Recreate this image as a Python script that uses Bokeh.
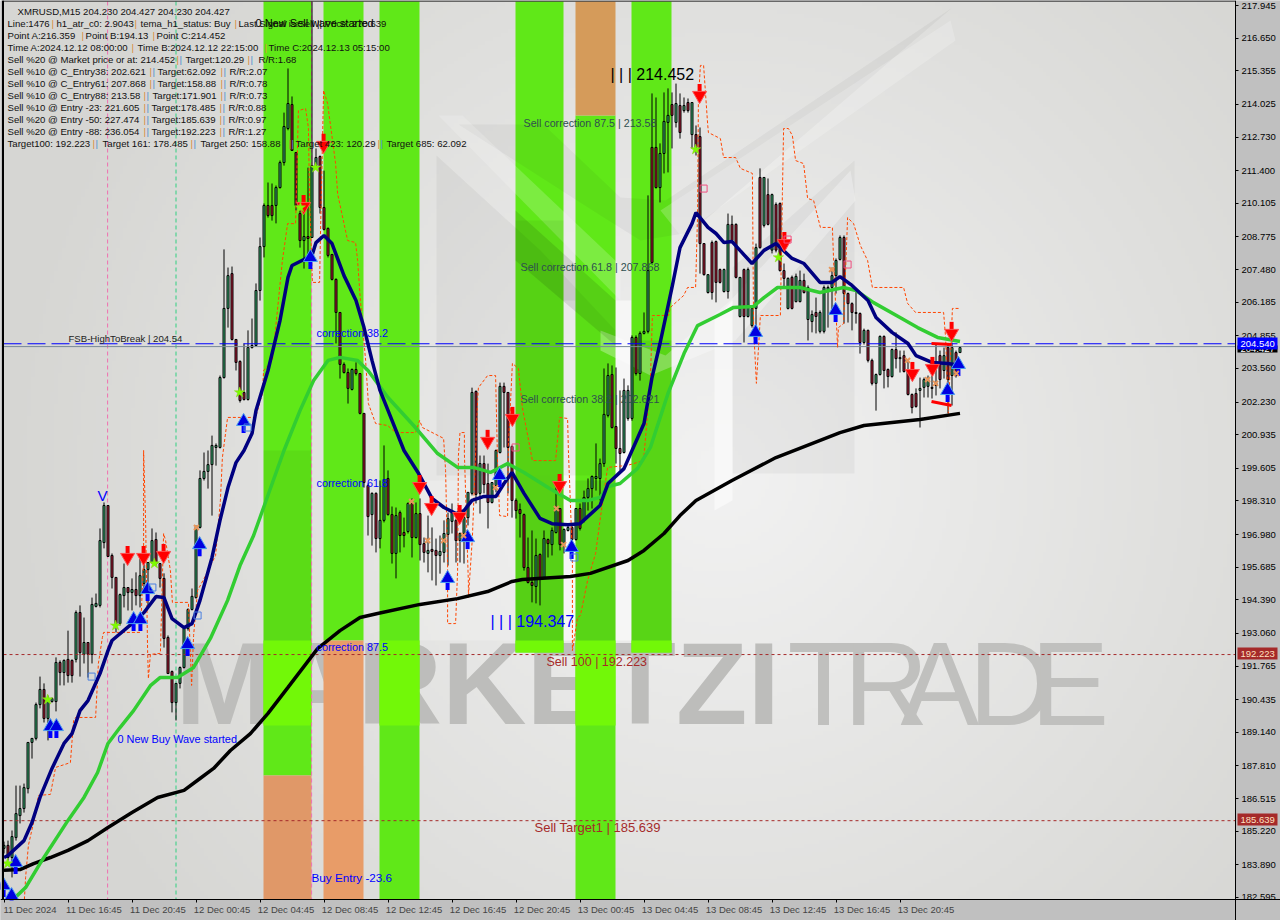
import numpy as np
from bokeh.plotting import figure
from bokeh.embed import file_html
from bokeh.resources import INLINE
from bokeh.core.properties import value
from bokeh.models import FixedTicker, Range1d, AllLabels, NumeralTickFormatter, LinearAxis

# ---------- candles (bar index 0..239), prices ----------
direction = list(
    "GRGGGGGGGG" "RGGGRGRRGR" "GRGGGGRRRG" "GRGRGGGGRR" "RRRGGGGGGG"
    "GGGGGGGRRR" "RGGGGGRRGG" "GGRRRGRGGR" "RRRRRRRGRR" "RRGRGGRRGR"
    "RGRGRRGRRG" "GGGRGGGGRG" "RRGGGRRRRR" "RRRGRGRGGR" "GGRGRGGGGG"
    "GGRRRGGGRG" "GGRRGGGRGR" "GRGRRRGRRR" "GGRRGRGGGR" "GRGRRRGRGG"
    "RGGRGGGGGG" "RRRRRGRRGG" "RRGRGRRRRG" "GGRRRGRGRG"
)
body_top = [
    184.66,184.66,185.01,185.92,186.12,186.95,188.74,188.90,190.24,190.84,
    190.84,190.40,190.48,191.91,191.91,191.99,192.03,191.99,193.89,193.89,
    192.70,192.70,194.21,194.25,196.74,198.13,198.13,196.15,195.28,194.60,
    194.88,194.88,194.80,194.80,195.35,195.59,195.87,196.74,196.78,195.83,
    195.24,192.90,191.55,191.08,191.71,193.25,194.01,194.53,197.26,199.20,
    199.48,199.75,200.51,200.51,203.20,205.94,207.24,207.32,204.71,203.84,
    202.61,204.39,204.47,206.65,208.39,210.02,210.02,210.02,210.73,211.72,
    213.15,214.06,214.02,212.12,209.70,208.79,208.79,211.60,211.92,211.96,
    209.94,209.11,208.08,207.09,205.78,203.72,203.40,203.52,203.52,203.36,
    201.78,198.92,198.61,198.61,197.54,199.16,199.20,197.77,197.73,197.85,
    197.06,198.21,198.21,197.81,197.81,196.62,196.35,196.39,196.35,196.31,
    197.02,197.61,197.85,197.54,197.02,197.65,198.65,202.61,202.65,199.79,
    199.79,199.00,199.04,200.31,202.85,202.85,202.61,200.47,198.33,197.97,
    197.77,195.67,195.08,196.15,196.19,196.82,196.78,197.14,198.01,198.01,
    197.18,197.26,197.26,198.01,198.01,198.45,198.80,199.28,199.28,199.79,
    201.74,203.28,203.32,201.26,200.39,202.69,202.69,204.79,204.79,204.95,
    205.03,207.44,212.32,212.32,212.08,213.35,213.59,214.02,214.06,213.98,
    213.98,214.10,214.10,212.83,212.75,208.51,207.28,208.55,208.59,207.48,
    207.48,209.27,209.27,209.27,207.17,207.48,207.48,205.94,208.35,211.13,
    211.13,210.45,210.45,210.06,210.10,207.44,207.13,207.17,207.21,207.05,
    207.05,206.77,205.70,205.78,205.78,206.77,206.77,207.24,207.84,208.75,
    208.75,206.53,206.13,205.78,205.74,205.07,205.07,203.88,203.32,204.83,
    204.83,203.52,204.31,204.31,203.99,204.07,203.48,202.53,202.57,202.77,
    203.12,203.12,202.81,202.97,204.07,204.07,204.39,204.39,204.19,204.39,
]
body_bottom = [
    184.54,184.18,184.18,184.97,185.84,186.12,186.91,188.74,188.90,190.24,
    189.69,189.69,190.36,190.36,191.51,191.51,191.39,191.39,192.03,192.30,
    192.23,192.23,192.23,194.13,194.17,196.66,196.11,195.28,193.45,193.45,
    194.56,194.68,194.68,194.56,194.56,195.04,195.59,195.87,195.83,195.24,
    192.86,191.47,190.32,190.32,191.08,191.71,193.25,194.01,194.48,197.26,
    199.20,199.48,199.75,200.43,200.43,203.20,205.94,204.71,203.80,202.29,
    202.33,202.33,204.39,204.47,206.65,208.39,209.62,209.62,210.02,210.73,
    211.72,213.07,212.20,210.02,208.63,208.63,208.71,208.75,211.60,209.94,
    209.07,208.04,207.09,205.78,203.72,203.40,202.77,202.73,203.36,201.78,
    199.04,197.69,197.77,196.82,196.82,197.54,197.77,196.23,196.23,196.94,
    196.94,197.10,196.86,196.86,196.58,196.27,196.23,196.31,196.15,196.15,
    196.27,196.98,197.50,196.74,196.74,197.02,197.65,198.61,198.57,198.61,
    198.96,198.25,198.25,198.92,200.23,202.61,200.43,198.33,197.93,197.81,
    195.67,195.08,194.96,194.92,195.24,195.28,196.62,196.58,197.06,196.58,
    196.58,197.14,196.78,196.78,197.22,197.54,198.45,198.80,199.20,199.20,
    199.79,201.70,201.22,200.39,200.19,200.23,201.58,201.58,203.36,203.36,
    204.95,205.03,207.76,210.73,210.73,212.08,213.31,213.59,213.31,212.91,
    213.78,213.78,212.83,212.32,208.51,207.28,206.57,206.57,206.97,206.97,
    206.61,206.61,208.63,207.17,205.62,205.62,205.62,205.26,205.94,208.35,
    209.23,209.27,208.25,208.25,207.44,207.13,205.94,205.94,206.21,206.21,
    206.57,205.50,205.42,205.62,205.03,205.03,206.69,206.77,207.24,207.88,
    206.53,206.13,205.78,205.74,204.59,204.59,203.88,202.97,202.97,203.32,
    203.48,203.24,203.24,203.95,203.95,203.44,202.53,202.01,202.05,202.69,
    202.81,202.85,202.77,202.89,203.12,203.48,203.12,203.28,203.28,204.19,
]
high = [
    184.81,184.85,185.25,187.03,187.03,187.11,188.74,188.90,190.32,191.35,
    191.08,190.60,190.52,192.11,191.99,192.03,193.17,192.03,193.97,194.17,
    193.69,192.70,194.48,194.64,197.22,198.25,198.13,196.23,195.28,194.64,
    195.83,194.88,195.24,195.48,196.03,196.23,195.87,197.22,197.06,195.83,
    195.44,192.98,191.59,191.08,191.75,193.29,194.05,194.84,197.34,199.52,
    200.23,200.31,200.90,200.59,203.28,208.28,207.56,207.60,204.71,203.88,
    204.55,205.07,205.54,206.93,208.75,210.10,210.93,210.89,210.81,211.80,
    213.70,215.45,214.34,212.12,209.82,209.94,211.52,218.10,212.28,212.00,
    211.40,209.15,208.08,207.13,205.78,203.80,203.56,203.56,203.80,203.36,
    201.78,199.00,198.65,198.65,199.12,200.51,199.52,198.09,198.05,197.93,
    197.65,198.25,198.41,198.25,198.41,196.86,197.73,197.26,196.82,196.94,
    197.54,197.85,198.21,197.61,197.06,197.81,198.65,202.80,202.69,200.11,
    200.11,199.79,199.04,200.35,203.00,203.00,202.61,200.51,198.41,198.21,
    197.81,196.86,197.14,196.82,196.23,197.14,196.82,197.26,198.84,198.01,
    197.22,197.34,197.34,198.01,198.21,198.72,199.20,199.32,200.59,199.99,
    203.56,203.76,203.68,203.60,202.69,203.16,202.89,204.87,204.87,205.03,
    205.78,210.42,214.46,214.30,212.48,214.50,214.66,214.50,214.85,214.46,
    214.30,214.26,214.10,213.19,213.11,208.51,207.28,208.63,208.63,207.52,
    207.52,209.70,209.62,209.31,207.17,207.52,207.56,205.98,208.51,211.49,
    211.13,211.09,210.49,210.14,210.14,207.72,207.17,207.24,207.32,207.44,
    207.32,206.85,205.86,206.37,205.86,206.85,206.85,207.56,207.92,208.83,
    208.83,206.57,206.18,206.73,205.78,205.14,205.10,203.95,203.36,204.87,
    204.87,203.56,204.35,204.99,204.27,204.27,203.88,202.57,202.77,203.20,
    203.20,203.28,203.28,204.55,204.27,204.39,204.55,204.59,204.27,204.43,
]
low = [
    184.34,184.06,183.39,184.85,185.53,185.96,186.72,188.10,188.82,190.09,
    189.53,188.82,190.32,189.97,191.00,191.00,191.11,191.11,191.91,191.35,
    191.87,191.31,191.87,194.09,194.09,196.43,196.11,194.84,193.10,193.37,
    194.09,193.97,193.97,194.17,194.09,194.76,194.17,195.83,195.75,194.88,
    192.50,191.47,189.93,189.61,190.88,191.67,193.17,193.97,194.44,197.22,
    199.12,198.80,197.73,199.71,200.39,203.16,205.18,204.67,203.48,202.21,
    202.29,202.29,204.35,204.47,206.25,207.96,209.54,209.42,209.31,210.69,
    211.60,213.00,212.20,209.82,208.35,207.52,207.96,208.75,211.52,209.70,
    209.03,207.96,207.05,204.55,203.16,203.36,202.17,202.69,203.28,201.74,
    198.84,196.94,196.54,196.27,196.43,197.46,197.73,195.83,195.24,196.27,
    196.47,197.02,196.07,196.82,195.95,195.87,195.48,195.16,194.96,195.43,
    195.87,195.75,197.02,195.87,195.87,195.83,197.34,198.53,198.21,197.81,
    198.61,197.22,198.21,198.65,200.19,200.43,198.61,197.65,197.61,196.86,
    195.55,195.04,194.29,194.25,194.17,195.24,196.07,196.15,197.02,196.35,
    196.23,197.10,196.07,196.74,197.14,197.46,197.93,198.01,198.72,198.33,
    199.66,201.62,201.18,199.79,199.52,200.19,201.49,201.49,203.28,203.08,
    204.91,204.95,207.72,210.69,210.14,211.29,211.33,212.28,213.11,212.67,
    213.70,213.70,212.28,212.00,207.32,207.24,206.53,206.29,206.18,206.93,
    206.57,206.33,208.55,207.13,205.58,204.59,205.58,205.18,204.55,208.31,
    209.15,209.23,208.12,208.16,207.40,206.77,205.90,205.90,206.18,206.18,
    206.53,204.67,204.99,204.95,204.95,204.95,205.18,205.86,206.53,207.84,
    205.34,205.38,205.07,205.34,204.15,204.51,203.80,202.89,201.89,203.28,
    202.77,202.81,203.20,203.56,203.40,203.40,202.49,201.78,202.01,201.22,
    202.41,202.41,202.37,202.49,202.77,203.16,201.78,202.09,203.20,204.19,
]

# ---------- indicator lines: (bar index, price) ----------
navy_x = [0,1,5,7,9,12,15,17,19,21,24,26,27,32,35,38,40,42,45,47,49,52,54,56,58,60,62,63,66,69,71,72,77,78,80,82,85,88,90,92,94,97,100,103.5,107,110,113,115,117,120,123,125,127,130,134,137,141,144,149,151,155,160,162,164,167,169,172,173,176,178,180,182,184,187,190,193,197,200,204,207,209,212,216,218,222,226,228,232,236,239]
navy_y = [184.18,184.26,184.85,185.57,186.56,187.71,188.70,189.09,190.00,190.40,191.47,192.38,192.78,193.45,193.89,194.52,194.48,193.65,193.29,193.45,194.37,196.07,197.54,198.84,199.83,200.31,200.98,201.89,203.48,205.46,207.17,207.64,208.04,208.55,208.83,208.51,207.24,206.25,205.18,203.88,202.69,201.50,200.31,199.44,198.41,198.05,197.81,197.93,198.33,198.49,198.49,199.00,199.44,198.61,197.62,197.41,197.37,197.41,198.13,199.00,199.59,201.38,203.20,204.55,206.77,208.35,209.30,209.74,209.15,208.91,208.55,208.59,208.24,207.72,208.24,208.51,207.92,207.72,206.97,206.97,207.20,206.85,206.25,205.58,204.99,204.55,204.07,203.80,203.76,203.68]
lime_x = [2.5,5.4,9,16,20,23.4,26,29,32.4,36.6,39,43.4,47.4,51.6,55.9,59,62.4,64.9,70,74,77.4,81,84,88.4,91,96,102.4,108.4,113.4,117.4,121.6,125.9,130,136,141.6,146,149,151,154,158.4,161.6,166,170,173.4,179,182.4,187.4,190,193.4,199,204,209.9,213,217.4,224,228.4,233.4,239]
lime_y = [182.55,182.99,183.94,185.65,186.56,187.55,188.70,189.33,190.00,190.99,191.31,191.31,191.71,192.86,194.37,195.75,196.94,198.05,200.31,201.89,203.08,203.88,204.00,203.88,203.48,202.41,201.30,200.19,199.64,199.64,199.44,199.79,199.44,198.84,198.33,198.33,198.45,198.88,199.00,199.60,200.43,202.57,204.15,205.26,205.70,205.98,206.02,206.37,206.77,206.77,206.57,206.77,206.65,206.17,205.58,205.18,204.79,204.63]
black_x = [0,4,7.4,11.6,16,21,26,32,38.4,45,49,52.4,56.6,61.6,66,71,78.4,84,89,93.4,104,113.4,120.9,127,129.6,141.6,146.6,156,160,165,169,173,182,193,209,215,229,239]
black_y = [183.67,183.70,183.94,184.18,184.46,184.85,185.37,185.96,186.56,186.84,187.31,187.71,188.42,189.09,189.89,190.92,192.46,193.17,193.69,193.85,194.21,194.44,194.72,195.12,195.20,195.32,195.44,195.95,196.35,197.02,197.73,198.33,199.12,200.03,201.02,201.30,201.54,201.78]
trail_x = [5.1,5.4,6.1,7.9,8.6,11.6,12.9,16.6,17.4,17.9,22.9,23.6,24.6,24.9,34.1,34.9,34.9,35.4,35.9,36.1,36.6,39.1,39.9,40.4,41.6,42.1,46.1,46.9,47.4,48.4,50.4,52.9,54.1,54.6,55.9,62.9,64.6,64.9,67.1,68.6,69.6,70.9,72.9,73.6,75.4,76.1,76.4,77.1,78.9,79.1,79.9,80.9,82.9,83.4,85.9,87.9,88.4,89.1,90.4,91.1,92.9,95.9,97.9,102.9,103.9,104.6,109.9,110.4,110.9,110.9,112.9,113.4,113.6,114,115.1,115.1,116.1,116.1,117.1,118.4,118.6,120.9,122.9,123.4,123.9,125.9,126.1,127.1,128.6,129.6,132.1,137.9,138.9,140.9,141.1,142.1,142.1,143.4,144.1,145.9,147.9,149.1,150.9,155.9,159.9,161.6,162.1,166.1,166.6,169.9,170.9,172.9,173.4,173.6,174.1,174.9,175.9,176.1,179.1,179.9,182.9,184.1,187.1,187.4,188.1,189.1,194.1,194.6,194.9,196.1,197.1,197.9,199.9,200.9,202.4,204.1,207.1,207.4,208.4,208.6,209.9,210.9,212.4,214.1,215.9,217.1,224.9,225.9,227.9,234.9,235.4,236.1,237.1,238.9]
trail_y = [182.52,183.39,184.66,185.92,186.64,186.68,187.75,187.94,189.61,189.73,189.73,191.87,192.90,193.10,193.10,195.95,200.31,197.54,192.38,191.27,192.23,192.27,197.02,196.74,195.55,194.29,194.29,191.00,192.98,194.76,195.35,196.15,198.33,200.03,201.62,201.62,202.57,203.48,203.88,206.25,207.84,209.30,209.30,213.78,213.86,213.11,210.22,206.97,206.97,208.75,214.58,214.06,211.68,210.49,208.63,208.55,207.84,206.25,203.88,202.17,201.38,201.30,201.02,201.02,201.50,201.22,200.79,199.51,195.83,193.45,193.45,195.55,200.11,201.02,201.02,200.19,195.04,194.48,196.86,202.29,202.80,203.28,203.28,199.79,197.73,197.69,200.51,203.76,203.56,202.01,199.91,199.91,201.62,201.58,200.31,196.07,192.38,193.69,193.77,195.16,196.23,197.65,199.64,199.72,199.91,203.08,205.66,205.66,205.98,206.45,206.77,206.77,209.70,214.18,215.57,215.57,213.27,212.91,212.67,211.92,211.92,211.49,211.29,205.18,202.97,205.66,205.66,210.49,213.07,213.07,212.79,211.80,211.68,210.30,210.22,209.15,209.15,207.84,204.39,205.18,205.34,209.54,209.30,208.43,207.84,206.77,206.77,206.14,205.78,205.78,204.79,201.78,205.94,205.94]

# ---------- signal marks: (bar index, price) ----------
sell_x = [30.9,34.9,39.9,74.9,79.9,103.9,106.9,113.9,120.9,127.1,138.9,173.9,195.1,227.1,232.1,236.9]
sell_y = [196.19,196.19,196.27,210.10,212.52,199.00,198.17,197.81,200.79,201.70,199.04,214.50,208.63,203.48,203.68,205.07]
buy_x = [-0.1,1.9,2.9,11.6,13.1,32.4,34.1,35.9,45.9,48.9,59.9,76.6,110.9,115.9,123.9,141.9,187.9,207.9,235.9,238.6]
buy_y = [182.95,182.55,183.86,189.25,189.25,193.49,193.49,194.68,192.50,196.46,201.34,207.84,195.12,196.74,199.20,196.35,204.87,205.74,202.57,203.60]
star_x = [0.9,10.9,27.9,37.6,58.9,74.1,77.9,172.9,193.6]
star_y = [183.94,190.44,193.37,195.83,202.61,209.94,211.52,212.24,207.96]
cross_x = [48.1,101.9,105.9,109.9,114.9,122.9,138.1,139.9,206.9,225.9,230.9,232.9,238.1]
cross_y = [197.26,198.29,196.74,196.74,196.94,198.84,198.01,196.58,207.48,203.88,203.12,202.97,203.36]
pink_x = [174.9,195.9,210.9,127.9]
pink_y = [210.69,208.67,207.68,200.43]
hollow_x = [21.9,37.1,48.4,60.9,142.6]
hollow_y = [191.35,194.88,193.77,201.22,196.07]

# ---------- axes ----------
tick_prices = [217.945,216.650,215.355,214.025,212.730,211.400,210.105,208.775,207.480,206.185,204.855,203.560,202.230,200.935,199.605,198.310,196.980,195.685,194.390,193.060,191.765,190.435,189.140,187.810,186.515,185.220,183.890,182.595]
time_ticks = [0,16,32,48,64,80,96,112,128,144,160,176,192,208,224]
time_labels = ["11 Dec 2024","11 Dec 16:45","11 Dec 20:45","12 Dec 00:45","12 Dec 04:45","12 Dec 08:45","12 Dec 12:45","12 Dec 16:45","12 Dec 20:45","13 Dec 00:45","13 Dec 04:45","13 Dec 08:45","13 Dec 12:45","13 Dec 16:45","13 Dec 20:45"]

AX_FONT = "Liberation Sans"
HD_FONT = "Liberation Sans"
PANEL_SIZE = "9.6px"
AX_GREY = "#c0c0c0"


def px(x):  # decoration placement: picture column to bar index
    return (x - 3.5) / 4.0


def py(y):  # decoration placement: picture row to price
    return 218.143 - 0.03963 * y


# the frame covers the whole page; the scales are fixed axes inside it, so the price tags can sit on them
p = figure(width=1280, height=920, output_backend="svg", toolbar_location=None,
           x_range=Range1d(px(0), px(1280)), y_range=Range1d(py(920), py(0)),
           x_axis_location="below", y_axis_location="right",
           min_border_left=0, min_border_right=0, min_border_top=0, min_border_bottom=0,
           background_fill_color=AX_GREY, border_fill_color=AX_GREY, outline_line_color=None)
p.grid.visible = False

p.xaxis.ticker = FixedTicker(ticks=time_ticks)
p.xaxis.major_label_overrides = {t: "" for t in time_ticks}
p.xaxis.fixed_location = py(899)
p.yaxis.ticker = FixedTicker(ticks=tick_prices)
p.yaxis.formatter = NumeralTickFormatter(format="0.000")
p.yaxis.fixed_location = px(1235)
for ax in (p.xaxis[0], p.yaxis[0]):
    ax.major_label_policy = AllLabels()
    ax.axis_line_color = "black"
    ax.major_tick_line_color = "black"
    ax.major_tick_in = 0
    ax.major_tick_out = 3
    ax.minor_tick_line_color = None
    ax.major_label_text_font = AX_FONT
    ax.major_label_text_font_size = "9.5px"
    ax.major_label_text_color = "black"
p.yaxis.major_label_standoff = 3

# time labels start at their tick: a tickless axis with its labels half a label to the right
label_offset = 6.5
time_axis = LinearAxis(fixed_location=py(899), major_tick_line_color=None, minor_tick_line_color=None,
                       major_tick_in=0, major_tick_out=0, minor_tick_in=0, minor_tick_out=0,
                       axis_line_color=None, major_label_standoff=4, major_label_policy=AllLabels(),
                       major_label_text_font=AX_FONT, major_label_text_font_size="9.5px",
                       ticker=FixedTicker(ticks=[t + label_offset for t in time_ticks]),
                       major_label_overrides={t + label_offset: l for t, l in zip(time_ticks, time_labels)})
p.add_layout(time_axis, "below")

# ---------- background gradient ----------
H, W = 230, 320
yy, xx = np.mgrid[0:H, 0:W]
xp = 3 + (xx + 0.5) * 1232 / W
yp = 899 - (yy + 0.5) * 898 / H
d = np.clip(np.hypot(xp - 720, (yp - 470)) / 720, 0, 1)
shade = (242 - 28 * d)
img = np.zeros((H, W), dtype=np.uint32)
view = img.view(dtype=np.uint8).reshape((H, W, 4))
view[..., 0] = shade
view[..., 1] = shade
view[..., 2] = shade - 3 * d
view[..., 3] = 255
p.image_rgba(image=[img], x=px(3), y=py(899), dw=px(1235) - px(3), dh=py(1) - py(899))


def poly(pts, color, alpha):
    p.patch([px(a) for a, b in pts], [py(b) for a, b in pts], fill_color=color, fill_alpha=alpha, line_color=None)


# ---------- logo behind the chart ----------
poly([(563, 300), (575, 300), (575, 640), (563, 640)], "white", 0.55)
poly([(615, 300), (631, 300), (631, 640), (615, 640)], "white", 0.55)
poly([(419, 480), (515, 480), (515, 640), (419, 640)], "white", 0.2)

# ---------- watermark ----------
p.text([px(175)], [py(683)], text=["MARKETZI"], text_font=value("Liberation Sans"), text_font_style="bold",
       text_font_size="117px", text_color="#bdbdbb", text_baseline="middle")
for ch, cx in zip("TRADE", [787, 843, 900, 968, 1030]):
    p.text([px(cx)], [py(683)], text=[ch], text_font=value("Liberation Sans"),
           text_font_size="118px", text_color="#c0c0be", text_baseline="middle")

# ---------- coloured zones ----------
LIME, BRIGHT = "#60e818", "#72f808"


def zone(x0, x1, y0, y1, color):
    p.quad(left=px(x0), right=px(x1), top=py(y0), bottom=py(y1), fill_color=color, line_color=None)


for a, b, bot in [(263, 311, 775), (323, 363, 640), (379, 419, 899), (515, 563, 652), (631, 671, 652)]:
    zone(a, b, 1, bot, LIME)
zone(575, 615, 115, 899, LIME)
zone(575, 615, 1, 115, "#d59b5a")
zone(263, 311, 775, 899, "#e09868")
zone(323, 363, 640, 899, "#e89c68")
for a, b, t, u in [(263, 311, 640, 725), (379, 419, 640, 725), (515, 563, 640, 652), (575, 615, 640, 725), (631, 671, 640, 652)]:
    zone(a, b, t, u, BRIGHT)

# ---------- translucent logo over everything below the candles ----------
poly([(436, 155), (540, 250), (615, 330), (615, 475), (436, 475)], "black", 0.045)
poly([(458, 124), (543, 124), (620, 197), (665, 200), (952, 7), (690, 232), (640, 240), (600, 215)], "black", 0.04)
poly([(732, 267), (854, 160), (854, 473), (732, 473)], "black", 0.04)
poly([(438, 115), (462, 115), (620, 265), (620, 300)], "white", 0.18)
poly([(714, 320), (732, 300), (732, 500), (714, 510)], "white", 0.5)
poly([(600, 330), (665, 355), (730, 300), (850, 170), (855, 200), (735, 340), (650, 375), (600, 350)], "white", 0.3)
poly([(660, 210), (950, 20), (955, 40), (680, 235)], "white", 0.2)
poly([(515, 210), (615, 300), (615, 345), (515, 260)], "black", 0.1)
poly([(263, 450), (311, 450), (311, 640), (263, 640)], "black", 0.05)
poly([(515, 220), (563, 220), (563, 475), (515, 475)], "black", 0.05)
poly([(515, 475), (563, 475), (563, 640), (515, 640)], "black", 0.1)
poly([(575, 480), (615, 480), (615, 640), (575, 640)], "black", 0.08)
poly([(631, 340), (671, 340), (671, 640), (631, 640)], "black", 0.08)

# ---------- vertical markers ----------
for b_x, col in [(25.9, "#f070b0"), (76.9, "#f070b0"), (43, "#30d080")]:
    p.line([b_x, b_x], [py(1), py(899)], line_color=col, line_dash="4 3", line_width=1)

# ---------- candles ----------
idx = list(range(len(body_top)))
p.segment(idx, high, idx, low, line_color="black", line_width=1)
for code, fill in (("G", "#3cb878"), ("R", "#b81f3a")):
    sel = [i for i in idx if direction[i] == code]
    p.vbar(x=sel, top=[body_top[i] for i in sel], bottom=[body_bottom[i] for i in sel], width=0.5,
           fill_color=fill, line_color="black", line_width=1)

# ---------- price levels ----------
left_edge, right_edge = px(3), px(1235)
p.line([left_edge, right_edge], [204.54, 204.54], line_color="#0000ff", line_dash="18 6", line_width=1)
p.line([left_edge, right_edge], [204.427, 204.427], line_color="#778899", line_width=1)
p.line([left_edge, right_edge], [192.223, 192.223], line_color="#a52a2a", line_dash="3 3", line_width=1)
p.line([left_edge, right_edge], [185.639, 185.639], line_color="#a52a2a", line_dash="3 3", line_width=1)

# ---------- indicators ----------
p.line(trail_x, trail_y, line_color="#ff4500", line_width=1, line_dash="3 2")
p.line(black_x, black_y, line_color="black", line_width=3.5)
p.line(lime_x, lime_y, line_color="#32cd32", line_width=3.5)
p.line(navy_x, navy_y, line_color="#000080", line_width=3.5)

# ---------- signals ----------
up_h = [v + 0.12 for v in buy_y]
up_s = [v - 0.16 for v in buy_y]
dn_h = [v - 0.12 for v in sell_y]
dn_s = [v + 0.16 for v in sell_y]
p.rect(buy_x, up_s, width=4, height=9, width_units="screen", height_units="screen", fill_color="#0000ff", line_color=None)
p.scatter(buy_x, up_h, marker="triangle", size=14, fill_color="#0000e0", line_color="#4a9ef0", line_width=1)
p.rect(sell_x, dn_s, width=4, height=9, width_units="screen", height_units="screen", fill_color="#ff0000", line_color=None)
p.scatter(sell_x, dn_h, marker="inverted_triangle", size=14, fill_color="#ff0000", line_color="#ff5050", line_width=1)
p.scatter(star_x, star_y, marker="star", size=11, fill_color="#7cfc00", line_color="#8fd020", line_width=0.5)
p.scatter(cross_x, cross_y, marker="x", size=7, line_color="#e8955a", line_width=2)
p.scatter(pink_x, pink_y, marker="square", size=7, fill_color=None, line_color="#f05080", line_width=1)
p.scatter(hollow_x, hollow_y, marker="square", size=7, fill_color=None, line_color="#4a80e0", line_width=1)
p.line([px(931), px(951)], [py(343), py(344)], line_color="red", line_width=3)
p.line([px(931), px(951)], [py(401), py(405)], line_color="red", line_width=3)


# ---------- chart labels ----------
def label(x, y, txt, color, size):
    p.text([px(x)], [py(y)], text=[txt], text_font=value(HD_FONT), text_font_size=size,
           text_color=color, text_baseline="middle", text_align="left")


label(97, 495, "V", "#0000ff", "15px")
label(610, 74, "| | | 214.452", "#000000", "16px")
label(490, 621, "| | | 194.347", "#0000ff", "16px")
label(117, 738, "0 New Buy Wave started", "#0000ff", "10.9px")
label(255, 22, "0 New Sell wave started", "#000000", "11px")
label(316, 332, "correction 38.2", "#0000ff", "10.8px")
label(316, 482, "correction 61.8", "#0000ff", "10.8px")
label(316, 646, "correction 87.5", "#0000ff", "10.8px")
label(311, 877, "Buy Entry -23.6", "#0000ff", "11.7px")
label(523, 122, "Sell correction 87.5 | 213.58", "#2f4f4f", "10.7px")
label(520, 266, "Sell correction 61.8 | 207.868", "#2f4f4f", "10.7px")
label(520, 398, "Sell correction 38.2 | 202.621", "#2f4f4f", "10.7px")
label(546, 661, "Sell 100 | 192.223", "#a52a2a", "12.5px")
label(534, 827, "Sell Target1 | 185.639", "#a52a2a", "13px")
label(68, 338, "FSB-HighToBreak | 204.54", "#222222", "9.6px")

# ---------- info panel ----------
ORANGE, STEEL = "#d98a3a", "#4a90d0"
panel = [
    (23, [(7, "Line:1476"), (56, "h1_atr_c0: 2.9043"), (140, "tema_h1_status: Buy"), (238, "Last Signal is:Sell || Price: 270.639")], [51, 134, 234], 1),
    (35, [(7, "Point A:216.359"), (85, "Point B:194.13"), (156, "Point C:214.452")], [81, 152], 1),
    (47, [(7, "Time A:2024.12.12 08:00:00"), (137, "Time B:2024.12.12 22:15:00"), (268, "Time C:2024.12.13 05:15:00")], [131, 264], 1),
    (59, [(7, "Sell %20 @ Market price or at: 214.452"), (185, "Target:120.29"), (258, "R/R:1.68")], [176, 247], 2),
    (71, [(7, "Sell %10 @ C_Entry38: 202.621"), (157, "Target:62.092"), (229, "R/R:2.07")], [149, 220], 2),
    (83, [(7, "Sell %10 @ C_Entry61: 207.868"), (157, "Target:158.88"), (229, "R/R:0.78")], [149, 220], 2),
    (95, [(7, "Sell %10 @ C_Entry88: 213.58"), (152, "Target:171.901"), (229, "R/R:0.73")], [143, 220], 2),
    (107, [(7, "Sell %10 @ Entry -23: 221.605"), (151, "Target:178.485"), (228, "R/R:0.88")], [143, 219], 2),
    (119, [(7, "Sell %20 @ Entry -50: 227.474"), (151, "Target:185.639"), (228, "R/R:0.97")], [143, 219], 2),
    (131, [(7, "Sell %20 @ Entry -88: 236.054"), (151, "Target:192.223"), (228, "R/R:1.27")], [143, 219], 2),
    (143, [(7, "Target100: 192.223"), (102, "Target 161: 178.485"), (200, "Target 250: 158.88"), (295, "Target 423: 120.29"), (386, "Target 685: 62.092")], [92, 190, 288, 377], 2),
]
label(17, 11, "XMRUSD,M15  204.230 204.427 204.230 204.427", "#111111", PANEL_SIZE)
for row, pieces, pipes, n in panel:
    for x0, t in pieces:
        label(x0, row, t, "#111111", PANEL_SIZE)
    for x0 in pipes:
        label(x0, row, "|", ORANGE, PANEL_SIZE)
        if n == 2:
            label(x0 + 3, row, "|", STEEL, PANEL_SIZE)

# ---------- masks and box of the chart window ----------
zone(0, 2, 0, 920, AX_GREY)
zone(0, 1280, 900, 920, AX_GREY)
zone(1236, 1280, 0, 920, AX_GREY)
p.line([px(2.5), px(2.5)], [py(0), py(899)], line_color="black", line_width=2)
p.line([px(2), px(1235)], [py(0.5), py(0.5)], line_color="black", line_width=1)

# ---------- price tags on the scale, above its labels ----------
for row0, row1, txt, bg, fg in [(345, 352, "204.427", "#000000", "#ffffff"), (337, 349, "204.540", "#0000ff", "#ffffff"),
                                (647, 659, "192.223", "#a52a2a", "#ffe0c0"), (813, 825, "185.639", "#a52a2a", "#ffe0c0")]:
    p.quad(left=px(1237), right=px(1277), top=py(row0), bottom=py(row1), fill_color=bg, line_color=None, level="overlay")
    p.text([px(1240)], [py((row0 + row1) / 2)], text=[txt], text_font=value(AX_FONT), text_font_size="9.5px",
           text_color=fg, text_baseline="middle", level="overlay")

open("out.html", "w").write(file_html(p, INLINE))
